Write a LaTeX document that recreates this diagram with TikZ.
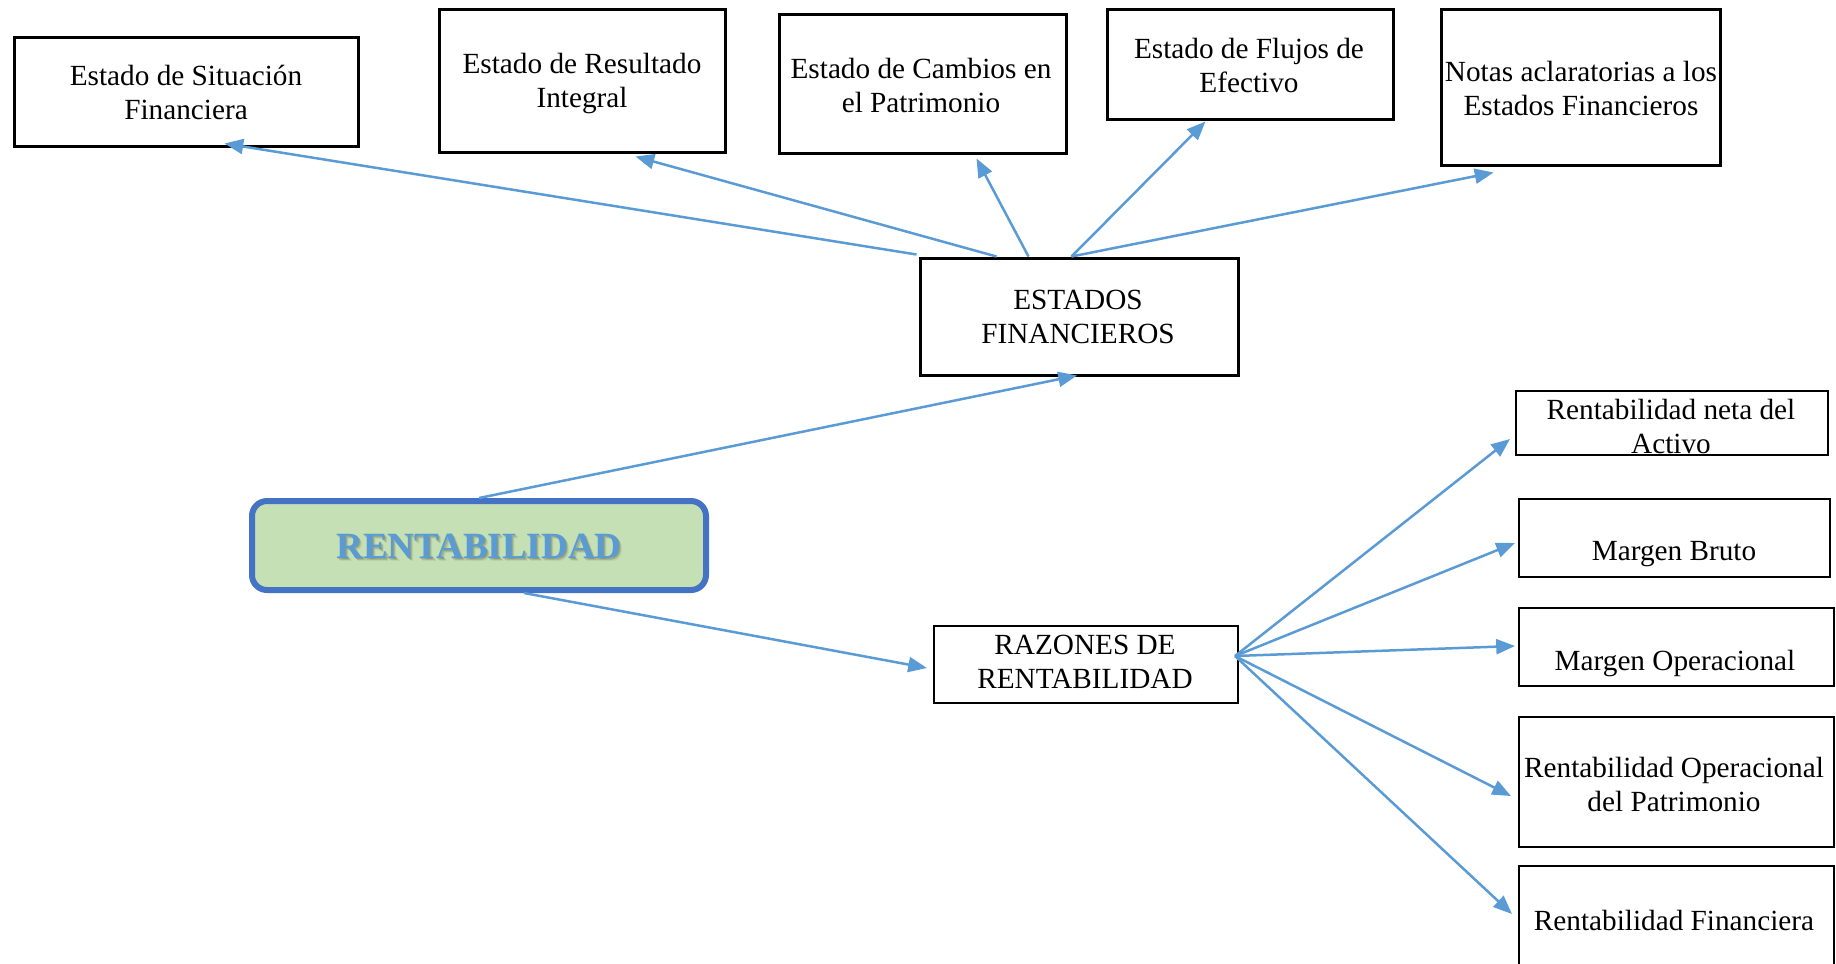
\documentclass[tikz,border=0pt]{standalone}
\usepackage{fontspec}
\setmainfont{Liberation Serif}
\usetikzlibrary{arrows.meta,calc,fit}
\definecolor{linkblue}{RGB}{91,155,213}
\definecolor{mainfill}{RGB}{197,224,180}
\definecolor{mainedge}{RGB}{68,114,196}
\begin{document}
\begin{tikzpicture}[x=0.4pt,y=-0.4pt,
  boxthick/.style={draw=black,line width=1.2pt,inner sep=0pt},
  boxthin/.style={draw=black,line width=0.8pt,inner sep=0pt},
  lbl/.style={align=center,inner sep=0pt,font=\fontsize{11.7}{13.6}\selectfont},
  conn/.style={draw=linkblue,line width=1pt,-{Triangle[length=7.5pt,width=6pt]}},
  mainbox/.style={draw=mainedge,fill=mainfill,line width=2.4pt,rounded corners=6pt,inner sep=0pt}]
\useasboundingbox (0,0) rectangle (1836,963);
\clip (0,0) rectangle (1836,963);

% top row: the financial statements
\node[boxthick,fit={(14,37)(358,146)}] (sit) {};
\node[boxthick,fit={(439,9)(725,152)}] (res) {};
\node[boxthick,fit={(779,14)(1066,153)}] (cam) {};
\node[boxthick,fit={(1107,9)(1393,119)}] (flu) {};
\node[boxthick,fit={(1441,9)(1720,165)}] (not) {};
\node[lbl] at (186,92) {Estado de Situación\\Financiera};
\node[lbl] at (582,83) {Estado de Resultado\\Integral};
\node[lbl] at (921,85) {Estado de Cambios en\\el Patrimonio};
\node[lbl] at (1249,65) {Estado de Flujos de\\Efectivo};
\node[lbl] at (1581,88) {Notas aclaratorias a los\\Estados Financieros};

% middle hub
\node[boxthick,fit={(920,258)(1238,375)}] (est) {};
\node[lbl] at (1078,317) {ESTADOS\\FINANCIEROS};

% central concept
\node[mainbox,fit={(252,501)(706,590)}] (rent) {};
\foreach \dx/\dy/\op in {2/2/0.12,1/1/0.15,3/3/0.06}
  \node[inner sep=0pt,text=black,opacity=\op,font=\fontsize{14.8}{17}\selectfont\bfseries]
    at (479+\dx,546+\dy) {RENTABILIDAD};
\node[inner sep=0pt,text=linkblue,font=\fontsize{14.8}{17}\selectfont\bfseries]
  at (479,546) {RENTABILIDAD};

% ratios
\node[boxthin,fit={(934,626)(1238,703)}] (raz) {};
\node[lbl] at (1085,662) {RAZONES DE\\RENTABILIDAD};

\node[boxthin,fit={(1516,391)(1828,455)}] (rna) {};
\node[boxthin,fit={(1519,499)(1830,577)}] (mbr) {};
\node[boxthin,fit={(1519,608)(1834,686)}] (mop) {};
\node[boxthin,fit={(1519,717)(1834,847)}] (rop) {};
\node[boxthin,fit={(1519,866)(1834,990)}] (rfi) {};
\node[lbl] at (1671,426) {Rentabilidad neta del\\Activo};
\node[lbl] at (1674,554) {Margen Bruto};
\node[lbl] at (1675,663) {Margen Operacional};
\node[lbl] at (1674,784) {Rentabilidad Operacional\\del Patrimonio};
\node[lbl] at (1674,920) {Rentabilidad Financiera};

% connectors from the hub to each statement
\draw[conn] ($(est.north west)+(-2,-2)$) -- ($(sit.north west)+(212,108)$);
\draw[conn] ($(est.north west)+(78,0)$) -- ($(res.north west)+(198,149)$);
\draw[conn] ($(est.north west)+(110,0)$) -- ($(cam.north west)+(199,146)$);
\draw[conn] ($(est.north west)+(153,0)$) -- ($(flu.north west)+(100,114)$);
\draw[conn] ($(est.north west)+(153,0)$) -- ($(not.north west)+(54,165)$);

% central concept to both branches
\draw[conn] (rent.north) -- ($(est.south)+(-2,-1)$);
\draw[conn] ($(rent.south west)+(275,0)$) -- ($(raz.north west)+(-6,43)$);

% fan of ratios
\coordinate (fan) at ($(raz.north east)+(-4,31)$);
\draw[conn] (fan) -- ($(rna.north west)+(-5,49)$);
\draw[conn] (fan) -- ($(mbr.north west)+(-3,45)$);
\draw[conn] (fan) -- ($(mop.north west)+(-3,39)$);
\draw[conn] (fan) -- ($(rop.north west)+(-7,80)$);
\draw[conn] (fan) -- ($(rfi.north west)+(-6,49)$);
\end{tikzpicture}
\end{document}
